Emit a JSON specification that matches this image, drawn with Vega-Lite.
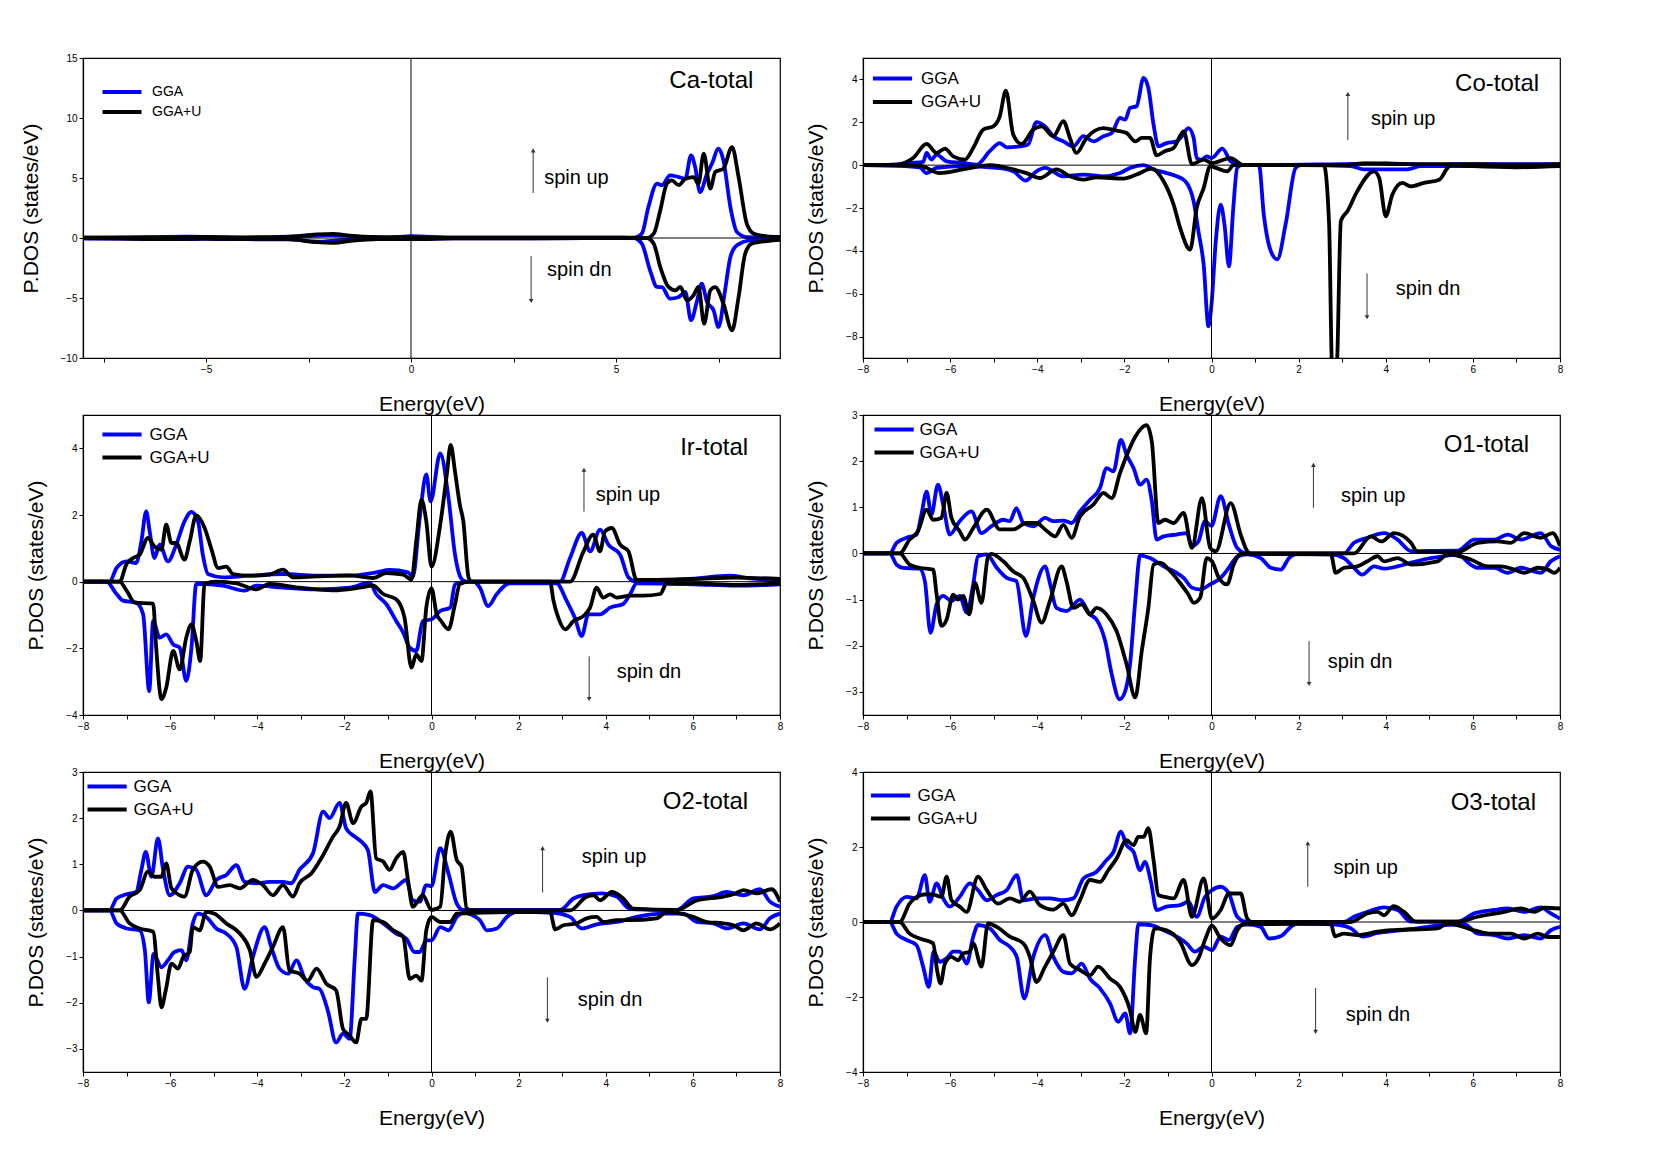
{
"$schema":"https://vega.github.io/schema/vega-lite/v6.json",
"padding":{"left":19,"top":52,"right":5,"bottom":5},
"background":"white",
"config":{"font":"Liberation Sans","view":{"stroke":"black","strokeWidth":1.2},
"axis":{"grid":false,"domainColor":"black","domainWidth":1.2,"tickColor":"black","tickSize":4,"labelFontSize":10,"labelColor":"black","titleFontSize":21,"titleFontWeight":"normal","titleColor":"black","labelOverlap":false,"labelFlush":false,"titlePadding":19},
"legend":{"symbolStrokeWidth":4,"labelFontSize":17,"padding":0,"labelLimit":300,"labelColor":"black","title":null},
"text":{"font":"Liberation Sans","color":"black"}},
"datasets":{
"Ca_GGA_up":[{"x":-8,"y":0.05},{"x":-7,"y":0.03},{"x":-6,"y":0.1},{"x":-5.3,"y":0.12},{"x":-4.5,"y":0.03},{"x":-3.5,"y":0.08},{"x":-2.5,"y":0.15},{"x":-2.0,"y":0.25},{"x":-1.6,"y":0.2},{"x":-1.0,"y":0.05},{"x":-0.3,"y":0.1},{"x":0,"y":0.15},{"x":1,"y":0.03},{"x":3,"y":0.03},{"x":5.2,"y":0.02},{"x":5.43,"y":0},{"x":5.63,"y":0.36},{"x":5.79,"y":2.58},{"x":6.0,"y":4.53},{"x":6.12,"y":4.4},{"x":6.32,"y":5.22},{"x":6.53,"y":5.08},{"x":6.69,"y":4.94},{"x":6.83,"y":6.89},{"x":6.93,"y":5.92},{"x":7.05,"y":3.83},{"x":7.22,"y":5.36},{"x":7.34,"y":6.19},{"x":7.5,"y":7.44},{"x":7.62,"y":6.47},{"x":7.79,"y":2.58},{"x":7.95,"y":0.5},{"x":8.19,"y":0.08},{"x":9,"y":0.05}],
"Ca_GGA_dn":[{"x":-8,"y":-0.05},{"x":-7,"y":-0.05},{"x":-6,"y":-0.1},{"x":-5,"y":-0.08},{"x":-4,"y":-0.1},{"x":-3,"y":-0.12},{"x":-2.2,"y":-0.3},{"x":-1.8,"y":-0.2},{"x":-1,"y":-0.05},{"x":0,"y":-0.1},{"x":1,"y":-0.03},{"x":3,"y":-0.03},{"x":5.43,"y":0},{"x":5.63,"y":-0.47},{"x":5.83,"y":-2.69},{"x":6.0,"y":-4.08},{"x":6.12,"y":-4.1},{"x":6.32,"y":-5.06},{"x":6.53,"y":-4.92},{"x":6.69,"y":-4.5},{"x":6.83,"y":-6.86},{"x":6.97,"y":-5.33},{"x":7.09,"y":-3.81},{"x":7.22,"y":-5.33},{"x":7.38,"y":-6.03},{"x":7.5,"y":-7.42},{"x":7.66,"y":-4.36},{"x":7.79,"y":-1.58},{"x":7.95,"y":-0.61},{"x":8.27,"y":-0.19},{"x":9,"y":-0.05}],
"Ca_U_up":[{"x":-8,"y":0},{"x":-7,"y":0.05},{"x":-6,"y":0.05},{"x":-5,"y":0.1},{"x":-4,"y":0.03},{"x":-3,"y":0.1},{"x":-2.3,"y":0.3},{"x":-1.9,"y":0.35},{"x":-1.5,"y":0.2},{"x":-0.8,"y":0.08},{"x":0,"y":0.05},{"x":1,"y":0.02},{"x":3,"y":0.02},{"x":5.5,"y":0.02},{"x":5.75,"y":0},{"x":5.92,"y":0.36},{"x":6.08,"y":2.31},{"x":6.24,"y":4.53},{"x":6.36,"y":4.81},{"x":6.53,"y":4.4},{"x":6.69,"y":4.94},{"x":6.89,"y":5.08},{"x":7.01,"y":4.53},{"x":7.14,"y":7.03},{"x":7.3,"y":4.11},{"x":7.42,"y":5.5},{"x":7.62,"y":5.78},{"x":7.83,"y":7.58},{"x":7.99,"y":5.08},{"x":8.19,"y":1.19},{"x":8.36,"y":0.36},{"x":8.68,"y":0.14},{"x":9,"y":0.1}],
"Ca_U_dn":[{"x":-8,"y":0},{"x":-7,"y":-0.05},{"x":-6,"y":-0.1},{"x":-5,"y":-0.05},{"x":-4,"y":-0.1},{"x":-3,"y":-0.1},{"x":-2.3,"y":-0.35},{"x":-1.9,"y":-0.4},{"x":-1.5,"y":-0.25},{"x":-0.8,"y":-0.1},{"x":0,"y":-0.1},{"x":1,"y":-0.03},{"x":3,"y":-0.02},{"x":5.75,"y":0},{"x":5.92,"y":-0.47},{"x":6.08,"y":-2.42},{"x":6.28,"y":-4.08},{"x":6.45,"y":-4.36},{"x":6.57,"y":-4.08},{"x":6.73,"y":-5.19},{"x":6.89,"y":-4.78},{"x":7.01,"y":-4.08},{"x":7.15,"y":-7.14},{"x":7.3,"y":-4.36},{"x":7.42,"y":-4.1},{"x":7.62,"y":-5.47},{"x":7.83,"y":-7.69},{"x":7.99,"y":-4.92},{"x":8.15,"y":-1.31},{"x":8.31,"y":-0.47},{"x":8.68,"y":-0.25},{"x":9,"y":-0.15}],
"Co_GGA_up":[{"x":-8,"y":0},{"x":-7.3,"y":0.02},{"x":-6.9,"y":0.1},{"x":-6.62,"y":0.15},{"x":-6.54,"y":0.57},{"x":-6.43,"y":0.26},{"x":-6.31,"y":0.49},{"x":-6.08,"y":0.18},{"x":-5.7,"y":0.1},{"x":-5.39,"y":0.02},{"x":-5.09,"y":0.65},{"x":-4.86,"y":1.03},{"x":-4.7,"y":0.83},{"x":-4.4,"y":0.88},{"x":-4.21,"y":0.96},{"x":-4.02,"y":2.01},{"x":-3.82,"y":1.81},{"x":-3.63,"y":1.35},{"x":-3.4,"y":1.11},{"x":-3.17,"y":0.88},{"x":-2.94,"y":1.35},{"x":-2.71,"y":1.11},{"x":-2.48,"y":1.35},{"x":-2.29,"y":1.5},{"x":-2.1,"y":2.2},{"x":-1.98,"y":2.12},{"x":-1.87,"y":2.67},{"x":-1.72,"y":2.75},{"x":-1.56,"y":4.07},{"x":-1.45,"y":3.6},{"x":-1.33,"y":1.89},{"x":-1.22,"y":0.88},{"x":-1.03,"y":1.03},{"x":-0.8,"y":1.11},{"x":-0.68,"y":1.35},{"x":-0.53,"y":1.73},{"x":-0.41,"y":1.27},{"x":-0.34,"y":0.33},{"x":-0.22,"y":0.26},{"x":-0.11,"y":0.41},{"x":0.0,"y":0.33},{"x":0.25,"y":0.77},{"x":0.44,"y":0.18},{"x":0.67,"y":0},{"x":1,"y":0},{"x":3,"y":0.05},{"x":4,"y":0.08},{"x":5,"y":0.02},{"x":6,"y":0.05},{"x":7,"y":0.05},{"x":8,"y":0.05}],
"Co_GGA_dn":[{"x":-8,"y":0},{"x":-7.3,"y":-0.02},{"x":-6.7,"y":-0.1},{"x":-6.54,"y":-0.37},{"x":-6.31,"y":-0.13},{"x":-5.7,"y":-0.05},{"x":-4.93,"y":-0.13},{"x":-4.55,"y":-0.29},{"x":-4.27,"y":-0.72},{"x":-4.02,"y":-0.29},{"x":-3.82,"y":-0.13},{"x":-3.4,"y":-0.52},{"x":-2.94,"y":-0.44},{"x":-2.48,"y":-0.52},{"x":-2.1,"y":-0.37},{"x":-1.87,"y":-0.13},{"x":-1.56,"y":0},{"x":-1.33,"y":-0.2},{"x":-1.03,"y":-0.37},{"x":-0.8,"y":-0.52},{"x":-0.6,"y":-0.75},{"x":-0.41,"y":-1.69},{"x":-0.3,"y":-3.09},{"x":-0.18,"y":-4.64},{"x":-0.07,"y":-7.52},{"x":0.0,"y":-6.5},{"x":0.1,"y":-3.5},{"x":0.21,"y":-1.84},{"x":0.3,"y":-2.8},{"x":0.4,"y":-4.72},{"x":0.5,"y":-2.0},{"x":0.59,"y":-0.13},{"x":0.69,"y":0},{"x":1.09,"y":0},{"x":1.2,"y":-2.3},{"x":1.36,"y":-4.0},{"x":1.51,"y":-4.4},{"x":1.7,"y":-2.78},{"x":1.93,"y":-0.13},{"x":2.05,"y":0},{"x":3.2,"y":-0.05},{"x":3.5,"y":-0.2},{"x":4.5,"y":-0.2},{"x":4.8,"y":-0.05},{"x":6,"y":-0.05},{"x":8,"y":-0.05}],
"Co_U_up":[{"x":-8,"y":0},{"x":-7.23,"y":0.02},{"x":-6.85,"y":0.33},{"x":-6.54,"y":0.99},{"x":-6.31,"y":0.57},{"x":-6.12,"y":0.77},{"x":-5.93,"y":0.41},{"x":-5.66,"y":0.26},{"x":-5.47,"y":0.8},{"x":-5.24,"y":1.66},{"x":-5.01,"y":1.81},{"x":-4.86,"y":2.28},{"x":-4.72,"y":3.48},{"x":-4.55,"y":1.42},{"x":-4.36,"y":0.99},{"x":-4.09,"y":1.66},{"x":-3.9,"y":1.81},{"x":-3.63,"y":1.35},{"x":-3.4,"y":2.05},{"x":-3.25,"y":1.27},{"x":-3.1,"y":0.57},{"x":-2.87,"y":1.27},{"x":-2.48,"y":1.73},{"x":-2.18,"y":1.61},{"x":-1.95,"y":1.5},{"x":-1.75,"y":1.11},{"x":-1.6,"y":1.27},{"x":-1.41,"y":1.27},{"x":-1.26,"y":0.46},{"x":-1.07,"y":0.65},{"x":-0.87,"y":0.8},{"x":-0.64,"y":1.58},{"x":-0.45,"y":0.05},{"x":-0.18,"y":0.26},{"x":0.01,"y":0.1},{"x":0.44,"y":0.33},{"x":0.74,"y":0},{"x":3,"y":0},{"x":3.5,"y":0.08},{"x":4.5,"y":0.05},{"x":6,"y":0.05},{"x":7,"y":0.02},{"x":8,"y":0.05}],
"Co_U_dn":[{"x":-8,"y":0},{"x":-6.7,"y":-0.02},{"x":-6.24,"y":-0.37},{"x":-5.7,"y":-0.2},{"x":-5.09,"y":0},{"x":-4.55,"y":-0.2},{"x":-4.25,"y":-0.37},{"x":-3.94,"y":-0.6},{"x":-3.56,"y":-0.2},{"x":-3.25,"y":-0.52},{"x":-2.94,"y":-0.68},{"x":-2.64,"y":-0.57},{"x":-2.02,"y":-0.63},{"x":-1.72,"y":-0.44},{"x":-1.37,"y":-0.16},{"x":-1.1,"y":-0.75},{"x":-0.87,"y":-1.84},{"x":-0.72,"y":-2.93},{"x":-0.49,"y":-3.94},{"x":-0.34,"y":-2.0},{"x":-0.18,"y":-1.07},{"x":-0.03,"y":-0.05},{"x":0.1,"y":-0.13},{"x":0.36,"y":-0.29},{"x":0.51,"y":0},{"x":2.58,"y":0},{"x":2.7,"y":-2.78},{"x":2.77,"y":-9.5},{"x":2.87,"y":-9.5},{"x":2.97,"y":-2.6},{"x":3.12,"y":-2.15},{"x":3.35,"y":-1.2},{"x":3.73,"y":-0.29},{"x":3.85,"y":-0.6},{"x":4.0,"y":-2.39},{"x":4.15,"y":-1.38},{"x":4.38,"y":-0.83},{"x":4.57,"y":-0.99},{"x":4.88,"y":-0.83},{"x":5.23,"y":-0.68},{"x":5.42,"y":-0.13},{"x":5.5,"y":0},{"x":6,"y":-0.05},{"x":7,"y":-0.1},{"x":8,"y":-0.05}],
"Ir_GGA_up":[{"x":-8,"y":0},{"x":-7.39,"y":0},{"x":-7.23,"y":0.41},{"x":-7.0,"y":0.61},{"x":-6.78,"y":0.56},{"x":-6.66,"y":1.21},{"x":-6.55,"y":2.11},{"x":-6.47,"y":1.51},{"x":-6.36,"y":0.71},{"x":-6.24,"y":1.11},{"x":-6.05,"y":0.61},{"x":-5.86,"y":1.11},{"x":-5.67,"y":1.81},{"x":-5.51,"y":2.09},{"x":-5.36,"y":1.81},{"x":-5.25,"y":0.81},{"x":-5.13,"y":0.23},{"x":-4.79,"y":0.13},{"x":-4.17,"y":0.18},{"x":-3.41,"y":0.23},{"x":-2.64,"y":0.18},{"x":-1.88,"y":0.18},{"x":-1.27,"y":0.28},{"x":-0.96,"y":0.35},{"x":-0.54,"y":0.28},{"x":-0.43,"y":0.13},{"x":-0.27,"y":1.92},{"x":-0.12,"y":3.22},{"x":-0.02,"y":2.41},{"x":0.2,"y":3.85},{"x":0.39,"y":2.51},{"x":0.54,"y":0.81},{"x":0.69,"y":0.08},{"x":0.8,"y":0},{"x":2.95,"y":0},{"x":3.18,"y":0.71},{"x":3.45,"y":1.46},{"x":3.64,"y":0.91},{"x":3.87,"y":1.56},{"x":4.06,"y":1.11},{"x":4.33,"y":0.81},{"x":4.52,"y":0.13},{"x":4.71,"y":0},{"x":6.09,"y":0.1},{"x":6.85,"y":0.18},{"x":7.3,"y":0.1},{"x":8,"y":0.05}],
"Ir_GGA_dn":[{"x":-8,"y":0},{"x":-7.46,"y":0},{"x":-7.23,"y":-0.37},{"x":-7.08,"y":-0.57},{"x":-6.78,"y":-0.63},{"x":-6.62,"y":-0.98},{"x":-6.48,"y":-3.28},{"x":-6.39,"y":-1.18},{"x":-6.24,"y":-1.68},{"x":-6.09,"y":-1.58},{"x":-5.93,"y":-1.88},{"x":-5.78,"y":-1.98},{"x":-5.63,"y":-2.98},{"x":-5.51,"y":-1.98},{"x":-5.4,"y":-0.07},{"x":-5.17,"y":-0.07},{"x":-4.79,"y":-0.12},{"x":-4.29,"y":-0.27},{"x":-4.02,"y":-0.12},{"x":-3.41,"y":-0.18},{"x":-2.64,"y":-0.23},{"x":-1.88,"y":-0.18},{"x":-1.42,"y":-0.03},{"x":-1.27,"y":-0.37},{"x":-1.04,"y":-0.67},{"x":-0.81,"y":-1.18},{"x":-0.65,"y":-1.53},{"x":-0.5,"y":-1.98},{"x":-0.35,"y":-2.08},{"x":-0.2,"y":-1.18},{"x":0.0,"y":-1.13},{"x":0.2,"y":-0.88},{"x":0.43,"y":-0.78},{"x":0.54,"y":-0.07},{"x":0.96,"y":0},{"x":1.11,"y":-0.18},{"x":1.3,"y":-0.73},{"x":1.5,"y":-0.37},{"x":1.8,"y":-0.05},{"x":2.87,"y":-0.05},{"x":3.1,"y":-0.57},{"x":3.29,"y":-1.08},{"x":3.45,"y":-1.63},{"x":3.6,"y":-0.98},{"x":3.87,"y":-0.98},{"x":4.1,"y":-0.78},{"x":4.4,"y":-0.67},{"x":4.56,"y":-0.37},{"x":4.71,"y":-0.05},{"x":6,"y":-0.08},{"x":7,"y":-0.12},{"x":8,"y":-0.08}],
"Ir_U_up":[{"x":-8,"y":0},{"x":-7.16,"y":0},{"x":-7.0,"y":0.53},{"x":-6.85,"y":0.71},{"x":-6.7,"y":0.81},{"x":-6.51,"y":1.31},{"x":-6.36,"y":1.06},{"x":-6.2,"y":0.96},{"x":-6.09,"y":1.71},{"x":-5.97,"y":1.16},{"x":-5.86,"y":1.16},{"x":-5.67,"y":0.66},{"x":-5.55,"y":1.21},{"x":-5.4,"y":1.99},{"x":-5.21,"y":1.62},{"x":-5.05,"y":0.97},{"x":-4.9,"y":0.41},{"x":-4.71,"y":0.45},{"x":-4.56,"y":0.23},{"x":-4.17,"y":0.18},{"x":-3.72,"y":0.21},{"x":-3.41,"y":0.36},{"x":-3.18,"y":0.13},{"x":-2.64,"y":0.16},{"x":-1.88,"y":0.19},{"x":-1.34,"y":0.11},{"x":-1.04,"y":0.26},{"x":-0.65,"y":0.21},{"x":-0.46,"y":0.06},{"x":-0.35,"y":1.21},{"x":-0.23,"y":2.46},{"x":-0.12,"y":1.81},{"x":0.0,"y":0.45},{"x":0.2,"y":1.71},{"x":0.35,"y":3.2},{"x":0.44,"y":4.1},{"x":0.54,"y":3.3},{"x":0.65,"y":2.31},{"x":0.73,"y":1.81},{"x":0.85,"y":0.13},{"x":0.92,"y":0},{"x":3.18,"y":0},{"x":3.49,"y":0.91},{"x":3.71,"y":1.41},{"x":3.87,"y":0.91},{"x":3.98,"y":1.51},{"x":4.14,"y":1.61},{"x":4.33,"y":1.11},{"x":4.52,"y":0.91},{"x":4.71,"y":0.05},{"x":6,"y":0.08},{"x":7,"y":0.12},{"x":8,"y":0.08}],
"Ir_U_dn":[{"x":-8,"y":0},{"x":-7.16,"y":0},{"x":-7.0,"y":-0.27},{"x":-6.81,"y":-0.63},{"x":-6.39,"y":-0.66},{"x":-6.32,"y":-1.98},{"x":-6.2,"y":-3.52},{"x":-6.09,"y":-3.18},{"x":-5.93,"y":-2.08},{"x":-5.78,"y":-2.63},{"x":-5.63,"y":-1.68},{"x":-5.51,"y":-1.28},{"x":-5.4,"y":-1.78},{"x":-5.31,"y":-2.38},{"x":-5.21,"y":-0.07},{"x":-4.94,"y":0},{"x":-4.48,"y":-0.05},{"x":-4.02,"y":-0.23},{"x":-3.72,"y":-0.07},{"x":-3.03,"y":-0.18},{"x":-2.26,"y":-0.26},{"x":-1.65,"y":-0.18},{"x":-1.34,"y":-0.12},{"x":-1.11,"y":-0.37},{"x":-0.81,"y":-0.53},{"x":-0.62,"y":-1.08},{"x":-0.46,"y":-2.58},{"x":-0.35,"y":-2.18},{"x":-0.23,"y":-2.38},{"x":-0.12,"y":-0.78},{"x":0.0,"y":-0.2},{"x":0.12,"y":-0.98},{"x":0.22,"y":-1.18},{"x":0.39,"y":-1.43},{"x":0.54,"y":-0.67},{"x":0.65,"y":-0.07},{"x":0.88,"y":0},{"x":2.72,"y":0},{"x":2.8,"y":-0.57},{"x":2.91,"y":-1.08},{"x":3.07,"y":-1.43},{"x":3.26,"y":-1.18},{"x":3.49,"y":-1.03},{"x":3.64,"y":-0.78},{"x":3.79,"y":-0.18},{"x":3.94,"y":-0.48},{"x":4.1,"y":-0.38},{"x":4.25,"y":-0.48},{"x":4.56,"y":-0.42},{"x":4.86,"y":-0.42},{"x":5.25,"y":-0.37},{"x":5.4,"y":-0.05},{"x":6,"y":-0.05},{"x":7,"y":-0.1},{"x":8,"y":-0.05}],
"O1_GGA_up":[{"x":-8,"y":0},{"x":-7.39,"y":0},{"x":-7.23,"y":0.23},{"x":-7.0,"y":0.34},{"x":-6.77,"y":0.41},{"x":-6.66,"y":0.84},{"x":-6.54,"y":1.34},{"x":-6.43,"y":0.84},{"x":-6.28,"y":1.49},{"x":-6.16,"y":1.06},{"x":-6.01,"y":0.41},{"x":-5.78,"y":0.7},{"x":-5.51,"y":0.91},{"x":-5.28,"y":0.44},{"x":-5.05,"y":0.59},{"x":-4.78,"y":0.73},{"x":-4.63,"y":0.7},{"x":-4.48,"y":0.98},{"x":-4.32,"y":0.66},{"x":-4.09,"y":0.59},{"x":-3.82,"y":0.77},{"x":-3.63,"y":0.7},{"x":-3.4,"y":0.71},{"x":-3.21,"y":0.66},{"x":-3.02,"y":0.91},{"x":-2.79,"y":1.16},{"x":-2.56,"y":1.42},{"x":-2.41,"y":1.85},{"x":-2.25,"y":1.78},{"x":-2.08,"y":2.46},{"x":-1.95,"y":2.14},{"x":-1.79,"y":1.85},{"x":-1.64,"y":1.49},{"x":-1.49,"y":1.6},{"x":-1.37,"y":1.13},{"x":-1.26,"y":0.3},{"x":-1.1,"y":0.37},{"x":-0.8,"y":0.41},{"x":-0.57,"y":0.44},{"x":-0.45,"y":0.16},{"x":-0.3,"y":0.26},{"x":-0.15,"y":0.7},{"x":0.0,"y":0.6},{"x":0.21,"y":1.24},{"x":0.4,"y":0.62},{"x":0.59,"y":0.12},{"x":0.82,"y":0},{"x":3.04,"y":0},{"x":3.27,"y":0.23},{"x":3.58,"y":0.34},{"x":3.96,"y":0.44},{"x":4.27,"y":0.3},{"x":4.58,"y":0.05},{"x":5.65,"y":0.06},{"x":6.03,"y":0.3},{"x":6.49,"y":0.3},{"x":6.8,"y":0.41},{"x":7.1,"y":0.3},{"x":7.56,"y":0.44},{"x":7.79,"y":0.16},{"x":8,"y":0.08}],
"O1_GGA_dn":[{"x":-8,"y":0},{"x":-7.39,"y":0},{"x":-7.23,"y":-0.24},{"x":-7.08,"y":-0.31},{"x":-6.7,"y":-0.33},{"x":-6.58,"y":-0.6},{"x":-6.45,"y":-1.72},{"x":-6.31,"y":-1.1},{"x":-6.16,"y":-0.92},{"x":-5.97,"y":-1.03},{"x":-5.78,"y":-0.92},{"x":-5.62,"y":-1.28},{"x":-5.47,"y":-0.67},{"x":-5.36,"y":-0.06},{"x":-5.16,"y":-0.02},{"x":-4.93,"y":-0.31},{"x":-4.7,"y":-0.53},{"x":-4.48,"y":-0.6},{"x":-4.26,"y":-1.79},{"x":-4.09,"y":-0.96},{"x":-3.82,"y":-0.28},{"x":-3.71,"y":-0.64},{"x":-3.56,"y":-1.18},{"x":-3.33,"y":-1.25},{"x":-3.02,"y":-1.0},{"x":-2.79,"y":-1.32},{"x":-2.64,"y":-1.43},{"x":-2.44,"y":-1.9},{"x":-2.29,"y":-2.62},{"x":-2.11,"y":-3.16},{"x":-1.98,"y":-2.98},{"x":-1.87,"y":-2.4},{"x":-1.75,"y":-1.03},{"x":-1.64,"y":-0.04},{"x":-1.41,"y":-0.1},{"x":-1.1,"y":-0.28},{"x":-0.8,"y":-0.42},{"x":-0.64,"y":-0.53},{"x":-0.45,"y":-0.74},{"x":-0.26,"y":-0.78},{"x":-0.03,"y":-0.67},{"x":0.21,"y":-0.53},{"x":0.4,"y":-0.31},{"x":0.59,"y":-0.07},{"x":0.82,"y":-0.02},{"x":1.13,"y":-0.1},{"x":1.36,"y":-0.31},{"x":1.59,"y":-0.35},{"x":1.78,"y":-0.1},{"x":1.97,"y":-0.01},{"x":2.74,"y":-0.02},{"x":3.04,"y":-0.1},{"x":3.27,"y":-0.31},{"x":3.46,"y":-0.46},{"x":3.73,"y":-0.28},{"x":3.96,"y":-0.33},{"x":4.27,"y":-0.28},{"x":4.58,"y":-0.2},{"x":5.03,"y":-0.1},{"x":5.34,"y":-0.06},{"x":5.65,"y":-0.02},{"x":5.95,"y":-0.24},{"x":6.11,"y":-0.31},{"x":6.49,"y":-0.31},{"x":6.8,"y":-0.42},{"x":7.1,"y":-0.31},{"x":7.56,"y":-0.42},{"x":7.79,"y":-0.17},{"x":8,"y":-0.06}],
"O1_U_up":[{"x":-8,"y":0},{"x":-7.16,"y":0},{"x":-6.93,"y":0.3},{"x":-6.74,"y":0.48},{"x":-6.54,"y":0.95},{"x":-6.39,"y":0.73},{"x":-6.2,"y":0.77},{"x":-6.08,"y":1.31},{"x":-5.97,"y":0.77},{"x":-5.78,"y":0.48},{"x":-5.66,"y":0.3},{"x":-5.47,"y":0.55},{"x":-5.16,"y":0.95},{"x":-4.86,"y":0.52},{"x":-4.55,"y":0.52},{"x":-4.25,"y":0.66},{"x":-4.02,"y":0.66},{"x":-3.82,"y":0.52},{"x":-3.59,"y":0.37},{"x":-3.4,"y":0.62},{"x":-3.21,"y":0.34},{"x":-3.02,"y":0.8},{"x":-2.71,"y":1.06},{"x":-2.48,"y":1.31},{"x":-2.29,"y":1.2},{"x":-2.1,"y":1.74},{"x":-1.91,"y":2.21},{"x":-1.75,"y":2.53},{"x":-1.49,"y":2.78},{"x":-1.37,"y":2.42},{"x":-1.22,"y":0.66},{"x":-1.07,"y":0.73},{"x":-0.87,"y":0.66},{"x":-0.64,"y":0.88},{"x":-0.45,"y":0.12},{"x":-0.22,"y":1.2},{"x":-0.03,"y":0.12},{"x":0.1,"y":0.05},{"x":0.44,"y":1.09},{"x":0.67,"y":0.41},{"x":0.82,"y":0.05},{"x":0.9,"y":0},{"x":3.27,"y":0},{"x":3.66,"y":0.37},{"x":3.9,"y":0.26},{"x":4.19,"y":0.44},{"x":4.58,"y":0.23},{"x":4.73,"y":0.03},{"x":5.65,"y":0.03},{"x":6.11,"y":0.23},{"x":6.57,"y":0.26},{"x":6.87,"y":0.23},{"x":7.18,"y":0.44},{"x":7.56,"y":0.34},{"x":7.83,"y":0.44},{"x":8,"y":0.16}],
"O1_U_dn":[{"x":-8,"y":0},{"x":-7.16,"y":0},{"x":-6.93,"y":-0.24},{"x":-6.7,"y":-0.31},{"x":-6.39,"y":-0.35},{"x":-6.31,"y":-0.89},{"x":-6.2,"y":-1.57},{"x":-6.08,"y":-1.43},{"x":-5.93,"y":-0.89},{"x":-5.82,"y":-1.0},{"x":-5.7,"y":-0.92},{"x":-5.56,"y":-1.32},{"x":-5.43,"y":-0.64},{"x":-5.28,"y":-1.07},{"x":-5.13,"y":-0.07},{"x":-5.05,"y":-0.01},{"x":-4.78,"y":-0.17},{"x":-4.55,"y":-0.39},{"x":-4.32,"y":-0.53},{"x":-4.09,"y":-1.03},{"x":-3.9,"y":-1.5},{"x":-3.71,"y":-1.03},{"x":-3.44,"y":-0.28},{"x":-3.33,"y":-0.6},{"x":-3.17,"y":-1.18},{"x":-2.98,"y":-1.1},{"x":-2.79,"y":-1.32},{"x":-2.64,"y":-1.18},{"x":-2.41,"y":-1.32},{"x":-2.18,"y":-1.68},{"x":-1.95,"y":-2.4},{"x":-1.75,"y":-3.12},{"x":-1.6,"y":-2.11},{"x":-1.45,"y":-1.18},{"x":-1.33,"y":-0.24},{"x":-1.18,"y":-0.2},{"x":-0.95,"y":-0.38},{"x":-0.72,"y":-0.64},{"x":-0.53,"y":-0.89},{"x":-0.41,"y":-1.07},{"x":-0.26,"y":-0.96},{"x":-0.11,"y":-0.1},{"x":0.01,"y":-0.17},{"x":0.17,"y":-0.53},{"x":0.36,"y":-0.67},{"x":0.51,"y":-0.24},{"x":0.67,"y":-0.01},{"x":2.74,"y":-0.02},{"x":2.85,"y":-0.42},{"x":3.04,"y":-0.31},{"x":3.35,"y":-0.28},{"x":3.58,"y":-0.17},{"x":3.81,"y":-0.06},{"x":3.96,"y":-0.17},{"x":4.27,"y":-0.1},{"x":4.58,"y":-0.24},{"x":5.19,"y":-0.17},{"x":5.42,"y":-0.02},{"x":5.95,"y":-0.13},{"x":6.34,"y":-0.28},{"x":6.64,"y":-0.28},{"x":6.95,"y":-0.35},{"x":7.18,"y":-0.42},{"x":7.49,"y":-0.31},{"x":7.72,"y":-0.35},{"x":7.87,"y":-0.42},{"x":8,"y":-0.31}],
"O2_GGA_up":[{"x":-8,"y":0},{"x":-7.39,"y":0},{"x":-7.23,"y":0.26},{"x":-7.0,"y":0.35},{"x":-6.78,"y":0.4},{"x":-6.66,"y":0.88},{"x":-6.56,"y":1.27},{"x":-6.43,"y":0.73},{"x":-6.28,"y":1.56},{"x":-6.16,"y":0.88},{"x":-6.01,"y":0.33},{"x":-5.78,"y":0.59},{"x":-5.59,"y":0.95},{"x":-5.4,"y":0.88},{"x":-5.17,"y":0.33},{"x":-4.94,"y":0.66},{"x":-4.71,"y":0.77},{"x":-4.48,"y":0.98},{"x":-4.29,"y":0.62},{"x":-4.02,"y":0.59},{"x":-3.72,"y":0.62},{"x":-3.41,"y":0.62},{"x":-3.22,"y":0.59},{"x":-3.03,"y":0.88},{"x":-2.72,"y":1.24},{"x":-2.49,"y":2.14},{"x":-2.34,"y":2.0},{"x":-2.11,"y":2.33},{"x":-1.96,"y":1.78},{"x":-1.76,"y":1.6},{"x":-1.61,"y":1.49},{"x":-1.46,"y":1.31},{"x":-1.3,"y":0.4},{"x":-1.11,"y":0.55},{"x":-0.88,"y":0.48},{"x":-0.58,"y":0.66},{"x":-0.43,"y":0.22},{"x":-0.27,"y":0.19},{"x":-0.12,"y":0.55},{"x":0.0,"y":0.53},{"x":0.2,"y":1.35},{"x":0.39,"y":0.8},{"x":0.58,"y":0.15},{"x":0.73,"y":0.01},{"x":2.95,"y":0.01},{"x":3.26,"y":0.26},{"x":3.49,"y":0.33},{"x":3.91,"y":0.37},{"x":4.25,"y":0.3},{"x":4.56,"y":0.03},{"x":5.63,"y":0.01},{"x":6.01,"y":0.26},{"x":6.47,"y":0.31},{"x":6.78,"y":0.4},{"x":7.16,"y":0.33},{"x":7.54,"y":0.46},{"x":7.77,"y":0.19},{"x":8,"y":0.08}],
"O2_GGA_dn":[{"x":-8,"y":0},{"x":-7.39,"y":0},{"x":-7.23,"y":-0.28},{"x":-7.0,"y":-0.39},{"x":-6.7,"y":-0.43},{"x":-6.58,"y":-0.86},{"x":-6.49,"y":-1.99},{"x":-6.38,"y":-0.94},{"x":-6.2,"y":-1.23},{"x":-6.05,"y":-1.08},{"x":-5.9,"y":-0.9},{"x":-5.74,"y":-0.86},{"x":-5.63,"y":-1.08},{"x":-5.48,"y":-0.28},{"x":-5.36,"y":-0.07},{"x":-5.17,"y":-0.14},{"x":-4.94,"y":-0.39},{"x":-4.71,"y":-0.5},{"x":-4.48,"y":-0.79},{"x":-4.29,"y":-1.7},{"x":-4.1,"y":-1.01},{"x":-3.83,"y":-0.36},{"x":-3.68,"y":-0.79},{"x":-3.49,"y":-1.26},{"x":-3.29,"y":-1.37},{"x":-3.1,"y":-1.08},{"x":-2.91,"y":-1.48},{"x":-2.72,"y":-1.66},{"x":-2.57,"y":-1.7},{"x":-2.38,"y":-2.17},{"x":-2.19,"y":-2.86},{"x":-2.03,"y":-2.67},{"x":-1.88,"y":-2.78},{"x":-1.76,"y":-1.01},{"x":-1.69,"y":-0.07},{"x":-1.42,"y":-0.1},{"x":-1.11,"y":-0.28},{"x":-0.81,"y":-0.5},{"x":-0.58,"y":-0.61},{"x":-0.39,"y":-0.9},{"x":-0.27,"y":-0.9},{"x":-0.12,"y":-0.65},{"x":0.0,"y":-0.65},{"x":0.2,"y":-0.36},{"x":0.39,"y":-0.43},{"x":0.58,"y":-0.14},{"x":0.73,"y":-0.05},{"x":1.11,"y":-0.21},{"x":1.27,"y":-0.43},{"x":1.5,"y":-0.39},{"x":1.73,"y":-0.14},{"x":1.96,"y":-0.03},{"x":2.8,"y":-0.05},{"x":3.18,"y":-0.14},{"x":3.45,"y":-0.39},{"x":3.79,"y":-0.3},{"x":4.25,"y":-0.25},{"x":4.71,"y":-0.14},{"x":5.32,"y":-0.07},{"x":5.78,"y":-0.07},{"x":6.09,"y":-0.25},{"x":6.47,"y":-0.28},{"x":6.78,"y":-0.39},{"x":7.16,"y":-0.28},{"x":7.54,"y":-0.41},{"x":7.77,"y":-0.17},{"x":8,"y":-0.07}],
"O2_U_up":[{"x":-8,"y":0},{"x":-7.16,"y":0},{"x":-6.93,"y":0.3},{"x":-6.7,"y":0.44},{"x":-6.51,"y":0.84},{"x":-6.36,"y":0.73},{"x":-6.2,"y":0.73},{"x":-6.09,"y":1.02},{"x":-5.97,"y":0.48},{"x":-5.78,"y":0.33},{"x":-5.67,"y":0.3},{"x":-5.48,"y":0.88},{"x":-5.25,"y":1.06},{"x":-5.09,"y":0.95},{"x":-4.9,"y":0.51},{"x":-4.63,"y":0.55},{"x":-4.4,"y":0.48},{"x":-4.1,"y":0.66},{"x":-3.87,"y":0.55},{"x":-3.64,"y":0.33},{"x":-3.41,"y":0.55},{"x":-3.18,"y":0.3},{"x":-3.03,"y":0.59},{"x":-2.76,"y":0.8},{"x":-2.53,"y":1.13},{"x":-2.26,"y":1.6},{"x":-2.11,"y":1.82},{"x":-1.96,"y":2.33},{"x":-1.8,"y":1.89},{"x":-1.61,"y":2.25},{"x":-1.5,"y":2.33},{"x":-1.4,"y":2.58},{"x":-1.27,"y":1.13},{"x":-1.11,"y":1.06},{"x":-0.96,"y":0.88},{"x":-0.81,"y":1.13},{"x":-0.65,"y":1.27},{"x":-0.54,"y":0.66},{"x":-0.43,"y":0.08},{"x":-0.2,"y":0.33},{"x":0.0,"y":0.01},{"x":0.2,"y":0.08},{"x":0.31,"y":1.17},{"x":0.44,"y":1.71},{"x":0.58,"y":1.09},{"x":0.69,"y":0.95},{"x":0.81,"y":0.04},{"x":0.95,"y":0},{"x":3.18,"y":0},{"x":3.56,"y":0.3},{"x":3.72,"y":0.33},{"x":3.87,"y":0.22},{"x":4.14,"y":0.4},{"x":4.4,"y":0.26},{"x":4.63,"y":0.04},{"x":5.63,"y":0.01},{"x":6.09,"y":0.22},{"x":6.7,"y":0.3},{"x":6.93,"y":0.35},{"x":7.16,"y":0.44},{"x":7.46,"y":0.37},{"x":7.81,"y":0.46},{"x":8,"y":0.19}],
"O2_U_dn":[{"x":-8,"y":0},{"x":-7.16,"y":0},{"x":-6.93,"y":-0.28},{"x":-6.7,"y":-0.39},{"x":-6.39,"y":-0.46},{"x":-6.28,"y":-1.44},{"x":-6.2,"y":-2.1},{"x":-6.1,"y":-1.73},{"x":-5.97,"y":-1.15},{"x":-5.82,"y":-1.26},{"x":-5.7,"y":-1.01},{"x":-5.55,"y":-0.9},{"x":-5.48,"y":-0.36},{"x":-5.32,"y":-0.43},{"x":-5.17,"y":-0.03},{"x":-4.98,"y":-0.07},{"x":-4.71,"y":-0.28},{"x":-4.4,"y":-0.5},{"x":-4.17,"y":-0.86},{"x":-4.02,"y":-1.44},{"x":-3.83,"y":-1.15},{"x":-3.64,"y":-0.79},{"x":-3.41,"y":-0.36},{"x":-3.26,"y":-1.3},{"x":-3.03,"y":-1.37},{"x":-2.84,"y":-1.52},{"x":-2.64,"y":-1.26},{"x":-2.41,"y":-1.59},{"x":-2.19,"y":-1.73},{"x":-2.03,"y":-2.57},{"x":-1.88,"y":-2.71},{"x":-1.73,"y":-2.86},{"x":-1.61,"y":-2.35},{"x":-1.5,"y":-2.35},{"x":-1.34,"y":-0.21},{"x":-1.11,"y":-0.25},{"x":-0.88,"y":-0.43},{"x":-0.65,"y":-0.57},{"x":-0.5,"y":-1.48},{"x":-0.35,"y":-1.41},{"x":-0.23,"y":-1.52},{"x":-0.12,"y":-0.43},{"x":0.0,"y":-0.14},{"x":0.2,"y":-0.25},{"x":0.43,"y":-0.25},{"x":0.58,"y":-0.07},{"x":2.72,"y":-0.03},{"x":2.84,"y":-0.41},{"x":3.03,"y":-0.32},{"x":3.33,"y":-0.28},{"x":3.56,"y":-0.17},{"x":3.79,"y":-0.14},{"x":3.95,"y":-0.25},{"x":4.25,"y":-0.21},{"x":4.56,"y":-0.21},{"x":5.17,"y":-0.17},{"x":5.4,"y":-0.03},{"x":6.01,"y":-0.14},{"x":6.32,"y":-0.25},{"x":6.7,"y":-0.28},{"x":6.93,"y":-0.32},{"x":7.16,"y":-0.43},{"x":7.46,"y":-0.28},{"x":7.77,"y":-0.41},{"x":8,"y":-0.28}],
"O3_GGA_up":[{"x":-8,"y":0},{"x":-7.39,"y":0},{"x":-7.23,"y":0.41},{"x":-7.0,"y":0.67},{"x":-6.77,"y":0.63},{"x":-6.58,"y":1.25},{"x":-6.47,"y":0.54},{"x":-6.31,"y":1.03},{"x":-6.16,"y":0.63},{"x":-6.01,"y":0.41},{"x":-5.78,"y":0.67},{"x":-5.55,"y":1.03},{"x":-5.36,"y":0.85},{"x":-5.16,"y":0.58},{"x":-4.93,"y":0.72},{"x":-4.7,"y":0.85},{"x":-4.47,"y":1.25},{"x":-4.32,"y":0.58},{"x":-4.02,"y":0.63},{"x":-3.71,"y":0.63},{"x":-3.4,"y":0.58},{"x":-3.17,"y":0.63},{"x":-2.94,"y":1.16},{"x":-2.64,"y":1.34},{"x":-2.41,"y":1.65},{"x":-2.25,"y":1.87},{"x":-2.08,"y":2.41},{"x":-1.95,"y":2.05},{"x":-1.79,"y":1.87},{"x":-1.64,"y":1.38},{"x":-1.53,"y":1.6},{"x":-1.39,"y":1.07},{"x":-1.26,"y":0.32},{"x":-1.03,"y":0.41},{"x":-0.72,"y":0.45},{"x":-0.53,"y":0.54},{"x":-0.34,"y":0.14},{"x":-0.15,"y":0.67},{"x":0.01,"y":0.85},{"x":0.21,"y":0.94},{"x":0.4,"y":0.76},{"x":0.59,"y":0.14},{"x":0.82,"y":0},{"x":3.04,"y":0},{"x":3.27,"y":0.14},{"x":3.58,"y":0.27},{"x":3.96,"y":0.39},{"x":4.27,"y":0.32},{"x":4.58,"y":0.01},{"x":5.65,"y":0.01},{"x":6.03,"y":0.23},{"x":6.49,"y":0.32},{"x":6.8,"y":0.36},{"x":7.18,"y":0.27},{"x":7.56,"y":0.39},{"x":7.79,"y":0.23},{"x":8,"y":0.09}],
"O3_GGA_dn":[{"x":-8,"y":0},{"x":-7.39,"y":0},{"x":-7.23,"y":-0.31},{"x":-7.0,"y":-0.48},{"x":-6.77,"y":-0.62},{"x":-6.62,"y":-1.19},{"x":-6.49,"y":-1.73},{"x":-6.38,"y":-0.79},{"x":-6.24,"y":-1.06},{"x":-6.08,"y":-0.97},{"x":-5.93,"y":-0.79},{"x":-5.78,"y":-0.79},{"x":-5.62,"y":-1.11},{"x":-5.47,"y":-0.39},{"x":-5.36,"y":-0.08},{"x":-5.09,"y":-0.17},{"x":-4.86,"y":-0.48},{"x":-4.63,"y":-0.66},{"x":-4.47,"y":-0.93},{"x":-4.3,"y":-2.04},{"x":-4.09,"y":-0.93},{"x":-3.82,"y":-0.35},{"x":-3.63,"y":-0.93},{"x":-3.4,"y":-1.33},{"x":-3.21,"y":-1.37},{"x":-2.98,"y":-1.11},{"x":-2.79,"y":-1.51},{"x":-2.56,"y":-1.77},{"x":-2.33,"y":-2.17},{"x":-2.14,"y":-2.66},{"x":-1.98,"y":-2.44},{"x":-1.87,"y":-2.97},{"x":-1.75,"y":-0.93},{"x":-1.68,"y":-0.06},{"x":-1.41,"y":-0.08},{"x":-1.1,"y":-0.22},{"x":-0.8,"y":-0.39},{"x":-0.57,"y":-0.57},{"x":-0.38,"y":-0.79},{"x":-0.18,"y":-0.66},{"x":0.01,"y":-0.75},{"x":0.21,"y":-0.39},{"x":0.4,"y":-0.48},{"x":0.59,"y":-0.13},{"x":0.82,"y":-0.06},{"x":1.13,"y":-0.13},{"x":1.32,"y":-0.44},{"x":1.59,"y":-0.38},{"x":1.82,"y":-0.13},{"x":1.97,"y":-0.04},{"x":2.8,"y":-0.06},{"x":3.2,"y":-0.17},{"x":3.46,"y":-0.39},{"x":3.81,"y":-0.29},{"x":4.27,"y":-0.23},{"x":4.73,"y":-0.17},{"x":5.34,"y":-0.08},{"x":5.8,"y":-0.06},{"x":6.11,"y":-0.31},{"x":6.49,"y":-0.35},{"x":6.8,"y":-0.44},{"x":7.18,"y":-0.35},{"x":7.56,"y":-0.44},{"x":7.79,"y":-0.22},{"x":8,"y":-0.13}],
"O3_U_up":[{"x":-8,"y":0},{"x":-7.16,"y":0},{"x":-6.93,"y":0.49},{"x":-6.77,"y":0.67},{"x":-6.54,"y":0.74},{"x":-6.35,"y":0.72},{"x":-6.2,"y":0.67},{"x":-6.08,"y":1.21},{"x":-5.97,"y":0.58},{"x":-5.78,"y":0.41},{"x":-5.62,"y":0.27},{"x":-5.36,"y":1.21},{"x":-5.16,"y":0.85},{"x":-4.9,"y":0.49},{"x":-4.63,"y":0.63},{"x":-4.4,"y":0.54},{"x":-4.17,"y":0.81},{"x":-3.94,"y":0.45},{"x":-3.63,"y":0.33},{"x":-3.4,"y":0.49},{"x":-3.21,"y":0.18},{"x":-3.02,"y":0.58},{"x":-2.79,"y":1.12},{"x":-2.56,"y":1.07},{"x":-2.37,"y":1.38},{"x":-2.18,"y":1.69},{"x":-1.95,"y":2.18},{"x":-1.79,"y":2.05},{"x":-1.68,"y":2.27},{"x":-1.56,"y":2.27},{"x":-1.45,"y":2.5},{"x":-1.33,"y":1.65},{"x":-1.22,"y":0.72},{"x":-1.07,"y":0.67},{"x":-0.87,"y":0.63},{"x":-0.64,"y":1.12},{"x":-0.45,"y":0.14},{"x":-0.18,"y":1.16},{"x":0.01,"y":0.09},{"x":0.21,"y":0.32},{"x":0.4,"y":0.76},{"x":0.67,"y":0.76},{"x":0.82,"y":0.09},{"x":0.93,"y":0},{"x":3.2,"y":0},{"x":3.58,"y":0.23},{"x":3.81,"y":0.27},{"x":3.96,"y":0.18},{"x":4.18,"y":0.42},{"x":4.42,"y":0.27},{"x":4.69,"y":0.01},{"x":5.65,"y":0.01},{"x":6.11,"y":0.14},{"x":6.72,"y":0.27},{"x":7.1,"y":0.36},{"x":7.41,"y":0.27},{"x":7.64,"y":0.38},{"x":8,"y":0.36}],
"O3_U_dn":[{"x":-8,"y":0},{"x":-7.16,"y":0},{"x":-6.93,"y":-0.31},{"x":-6.7,"y":-0.44},{"x":-6.39,"y":-0.57},{"x":-6.3,"y":-1.28},{"x":-6.22,"y":-1.64},{"x":-6.12,"y":-1.11},{"x":-5.97,"y":-0.93},{"x":-5.82,"y":-1.02},{"x":-5.7,"y":-0.84},{"x":-5.55,"y":-0.79},{"x":-5.47,"y":-0.57},{"x":-5.28,"y":-1.19},{"x":-5.13,"y":-0.04},{"x":-4.93,"y":-0.13},{"x":-4.63,"y":-0.39},{"x":-4.32,"y":-0.57},{"x":-4.17,"y":-0.93},{"x":-4.02,"y":-1.6},{"x":-3.82,"y":-1.19},{"x":-3.63,"y":-0.79},{"x":-3.4,"y":-0.35},{"x":-3.25,"y":-1.11},{"x":-3.02,"y":-1.28},{"x":-2.79,"y":-1.42},{"x":-2.6,"y":-1.19},{"x":-2.33,"y":-1.51},{"x":-2.1,"y":-1.73},{"x":-1.87,"y":-2.35},{"x":-1.75,"y":-2.93},{"x":-1.64,"y":-2.48},{"x":-1.5,"y":-2.97},{"x":-1.41,"y":-0.93},{"x":-1.3,"y":-0.17},{"x":-1.03,"y":-0.22},{"x":-0.72,"y":-0.53},{"x":-0.45,"y":-1.15},{"x":-0.3,"y":-0.97},{"x":-0.15,"y":-0.48},{"x":0.01,"y":-0.1},{"x":0.21,"y":-0.44},{"x":0.44,"y":-0.62},{"x":0.59,"y":-0.22},{"x":0.74,"y":-0.06},{"x":2.74,"y":-0.04},{"x":2.83,"y":-0.38},{"x":3.04,"y":-0.31},{"x":3.35,"y":-0.35},{"x":3.81,"y":-0.26},{"x":4.11,"y":-0.22},{"x":4.58,"y":-0.2},{"x":5.19,"y":-0.17},{"x":5.42,"y":-0.04},{"x":6.03,"y":-0.22},{"x":6.41,"y":-0.31},{"x":6.87,"y":-0.31},{"x":7.18,"y":-0.44},{"x":7.49,"y":-0.31},{"x":7.72,"y":-0.4},{"x":8,"y":-0.4}]
},
"columns":2,
"spacing":{"row":57,"column":83},
"bounds":"flush",
"resolve":{"scale":{"x":"independent","y":"independent","color":"independent"},"axis":{"x":"independent","y":"independent"},"legend":{"color":"independent"}},
"concat":[
{"width":697,"height":300,"layer":[
{"data":{"name":"Ca_GGA_up"},"mark":{"type":"line","strokeWidth":3.8,"clip":true,"interpolate":"monotone"},"encoding":{"x":{"field":"x","type":"quantitative","scale":{"domain":[-8,9],"nice":false,"zero":false},"axis":{"title":"Energy(eV)","labelOverlap":false,"values":[-7.5,-5,-2.5,0,2.5,5,7.5],"labelExpr":"datum.value % 5 === 0 ? datum.label : ''"}},"y":{"field":"y","type":"quantitative","scale":{"domain":[-10,15],"nice":false,"zero":false},"axis":{"title":"P.DOS (states/eV)","labelOverlap":false,"values":[-10,-7.5,-5,-2.5,0,2.5,5,7.5,10,12.5,15],"labelExpr":"datum.value % 5 === 0 ? datum.label : ''"}},"color":{"datum":"GGA","scale":{"domain":["GGA","GGA+U"],"range":["#0000ff","#000000"]},"legend":{"title":null,"orient":"none","legendX":27,"legendY":22,"symbolType":"M-1.95,0H1.95","symbolSize":400,"labelFontSize":14,"labelOffset":18,"rowPadding":0}}}},
{"data":{"name":"Ca_GGA_dn"},"mark":{"type":"line","strokeWidth":3.8,"clip":true,"interpolate":"monotone"},"encoding":{"x":{"field":"x","type":"quantitative"},"y":{"field":"y","type":"quantitative"},"color":{"datum":"GGA"}}},
{"data":{"name":"Ca_U_up"},"mark":{"type":"line","strokeWidth":3.8,"clip":true,"interpolate":"monotone"},"encoding":{"x":{"field":"x","type":"quantitative"},"y":{"field":"y","type":"quantitative"},"color":{"datum":"GGA+U"}}},
{"data":{"name":"Ca_U_dn"},"mark":{"type":"line","strokeWidth":3.8,"clip":true,"interpolate":"monotone"},"encoding":{"x":{"field":"x","type":"quantitative"},"y":{"field":"y","type":"quantitative"},"color":{"datum":"GGA+U"}}},
{"data":{"values":[{}]},"mark":{"type":"rule","color":"black","strokeWidth":1},"encoding":{"y":{"datum":0}}},
{"data":{"values":[{}]},"mark":{"type":"rule","color":"black","strokeWidth":1},"encoding":{"x":{"datum":0}}},
{"data":{"values":[{}]},"mark":{"type":"text","align":"right","baseline":"middle","fontSize":24},"encoding":{"x":{"datum":8.35},"y":{"datum":13.1},"text":{"value":"Ca-total"}}},
{"data":{"values":[{}]},"mark":{"type":"text","align":"left","baseline":"middle","fontSize":20},"encoding":{"x":{"datum":3.25},"y":{"datum":5.0},"text":{"value":"spin up"}}},
{"data":{"values":[{}]},"mark":{"type":"text","align":"left","baseline":"middle","fontSize":20},"encoding":{"x":{"datum":3.32},"y":{"datum":-2.67},"text":{"value":"spin dn"}}},
{"data":{"values":[{}]},"mark":{"type":"rule","color":"#333","strokeWidth":1},"encoding":{"x":{"datum":2.98},"y":{"datum":3.75},"y2":{"datum":7.3}}},
{"data":{"values":[{}]},"mark":{"type":"rule","color":"#333","strokeWidth":1},"encoding":{"x":{"datum":2.93},"y":{"datum":-1.5},"y2":{"datum":-5.25}}},
{"data":{"values":[{}]},"mark":{"type":"point","shape":"triangle-up","size":22,"filled":true,"color":"#333","opacity":1},"encoding":{"x":{"datum":2.98},"y":{"datum":7.3}}},
{"data":{"values":[{}]},"mark":{"type":"point","shape":"triangle-down","size":22,"filled":true,"color":"#333","opacity":1},"encoding":{"x":{"datum":2.93},"y":{"datum":-5.25}}}
]},
{"width":697,"height":300,"layer":[
{"data":{"name":"Co_GGA_up"},"mark":{"type":"line","strokeWidth":3.8,"clip":true,"interpolate":"monotone"},"encoding":{"x":{"field":"x","type":"quantitative","scale":{"domain":[-8,8],"nice":false,"zero":false},"axis":{"title":"Energy(eV)","labelOverlap":false,"values":[-8,-7,-6,-5,-4,-3,-2,-1,0,1,2,3,4,5,6,7,8],"labelExpr":"datum.value % 2 === 0 ? datum.label : ''"}},"y":{"field":"y","type":"quantitative","scale":{"domain":[-9,5],"nice":false,"zero":false},"axis":{"title":"P.DOS (states/eV)","labelOverlap":false,"values":[-8,-7,-6,-5,-4,-3,-2,-1,0,1,2,3,4],"labelExpr":"datum.value % 2 === 0 ? datum.label : ''"}},"color":{"datum":"GGA","scale":{"domain":["GGA","GGA+U"],"range":["#0000ff","#000000"]},"legend":{"title":null,"orient":"none","legendX":15,"legendY":6,"symbolType":"M-1.6,0H1.6","symbolSize":600,"labelOffset":14,"rowPadding":0.5}}}},
{"data":{"name":"Co_GGA_dn"},"mark":{"type":"line","strokeWidth":3.8,"clip":true,"interpolate":"monotone"},"encoding":{"x":{"field":"x","type":"quantitative"},"y":{"field":"y","type":"quantitative"},"color":{"datum":"GGA"}}},
{"data":{"name":"Co_U_up"},"mark":{"type":"line","strokeWidth":3.8,"clip":true,"interpolate":"monotone"},"encoding":{"x":{"field":"x","type":"quantitative"},"y":{"field":"y","type":"quantitative"},"color":{"datum":"GGA+U"}}},
{"data":{"name":"Co_U_dn"},"mark":{"type":"line","strokeWidth":3.8,"clip":true,"interpolate":"monotone"},"encoding":{"x":{"field":"x","type":"quantitative"},"y":{"field":"y","type":"quantitative"},"color":{"datum":"GGA+U"}}},
{"data":{"values":[{}]},"mark":{"type":"rule","color":"black","strokeWidth":1},"encoding":{"y":{"datum":0}}},
{"data":{"values":[{}]},"mark":{"type":"rule","color":"black","strokeWidth":1},"encoding":{"x":{"datum":0}}},
{"data":{"values":[{}]},"mark":{"type":"text","align":"right","baseline":"middle","fontSize":24},"encoding":{"x":{"datum":7.52},"y":{"datum":3.78},"text":{"value":"Co-total"}}},
{"data":{"values":[{}]},"mark":{"type":"text","align":"left","baseline":"middle","fontSize":20},"encoding":{"x":{"datum":3.66},"y":{"datum":2.15},"text":{"value":"spin up"}}},
{"data":{"values":[{}]},"mark":{"type":"text","align":"left","baseline":"middle","fontSize":20},"encoding":{"x":{"datum":4.23},"y":{"datum":-5.8},"text":{"value":"spin dn"}}},
{"data":{"values":[{}]},"mark":{"type":"rule","color":"#333","strokeWidth":1},"encoding":{"x":{"datum":3.13},"y":{"datum":1.17},"y2":{"datum":3.32}}},
{"data":{"values":[{}]},"mark":{"type":"rule","color":"#333","strokeWidth":1},"encoding":{"x":{"datum":3.57},"y":{"datum":-5.05},"y2":{"datum":-7.1}}},
{"data":{"values":[{}]},"mark":{"type":"point","shape":"triangle-up","size":22,"filled":true,"color":"#333","opacity":1},"encoding":{"x":{"datum":3.13},"y":{"datum":3.32}}},
{"data":{"values":[{}]},"mark":{"type":"point","shape":"triangle-down","size":22,"filled":true,"color":"#333","opacity":1},"encoding":{"x":{"datum":3.57},"y":{"datum":-7.1}}}
]},
{"width":697,"height":300,"layer":[
{"data":{"name":"Ir_GGA_up"},"mark":{"type":"line","strokeWidth":3.8,"clip":true,"interpolate":"monotone"},"encoding":{"x":{"field":"x","type":"quantitative","scale":{"domain":[-8,8],"nice":false,"zero":false},"axis":{"title":"Energy(eV)","labelOverlap":false,"values":[-8,-7,-6,-5,-4,-3,-2,-1,0,1,2,3,4,5,6,7,8],"labelExpr":"datum.value % 2 === 0 ? datum.label : ''"}},"y":{"field":"y","type":"quantitative","scale":{"domain":[-4,5],"nice":false,"zero":false},"axis":{"title":"P.DOS (states/eV)","labelOverlap":false,"values":[-4,-3,-2,-1,0,1,2,3,4,5],"labelExpr":"datum.value % 2 === 0 ? datum.label : ''"}},"color":{"datum":"GGA","scale":{"domain":["GGA","GGA+U"],"range":["#0000ff","#000000"]},"legend":{"title":null,"orient":"none","legendX":24.5,"legendY":5,"symbolType":"M-1.6,0H1.6","symbolSize":600,"labelOffset":13,"rowPadding":0}}}},
{"data":{"name":"Ir_GGA_dn"},"mark":{"type":"line","strokeWidth":3.8,"clip":true,"interpolate":"monotone"},"encoding":{"x":{"field":"x","type":"quantitative"},"y":{"field":"y","type":"quantitative"},"color":{"datum":"GGA"}}},
{"data":{"name":"Ir_U_up"},"mark":{"type":"line","strokeWidth":3.8,"clip":true,"interpolate":"monotone"},"encoding":{"x":{"field":"x","type":"quantitative"},"y":{"field":"y","type":"quantitative"},"color":{"datum":"GGA+U"}}},
{"data":{"name":"Ir_U_dn"},"mark":{"type":"line","strokeWidth":3.8,"clip":true,"interpolate":"monotone"},"encoding":{"x":{"field":"x","type":"quantitative"},"y":{"field":"y","type":"quantitative"},"color":{"datum":"GGA+U"}}},
{"data":{"values":[{}]},"mark":{"type":"rule","color":"black","strokeWidth":1},"encoding":{"y":{"datum":0}}},
{"data":{"values":[{}]},"mark":{"type":"rule","color":"black","strokeWidth":1},"encoding":{"x":{"datum":0}}},
{"data":{"values":[{}]},"mark":{"type":"text","align":"right","baseline":"middle","fontSize":24},"encoding":{"x":{"datum":7.27},"y":{"datum":4.02},"text":{"value":"Ir-total"}}},
{"data":{"values":[{}]},"mark":{"type":"text","align":"left","baseline":"middle","fontSize":20},"encoding":{"x":{"datum":3.77},"y":{"datum":2.61},"text":{"value":"spin up"}}},
{"data":{"values":[{}]},"mark":{"type":"text","align":"left","baseline":"middle","fontSize":20},"encoding":{"x":{"datum":4.25},"y":{"datum":-2.72},"text":{"value":"spin dn"}}},
{"data":{"values":[{}]},"mark":{"type":"rule","color":"#333","strokeWidth":1},"encoding":{"x":{"datum":3.5},"y":{"datum":2.1},"y2":{"datum":3.36}}},
{"data":{"values":[{}]},"mark":{"type":"rule","color":"#333","strokeWidth":1},"encoding":{"x":{"datum":3.62},"y":{"datum":-2.24},"y2":{"datum":-3.52}}},
{"data":{"values":[{}]},"mark":{"type":"point","shape":"triangle-up","size":22,"filled":true,"color":"#333","opacity":1},"encoding":{"x":{"datum":3.5},"y":{"datum":3.36}}},
{"data":{"values":[{}]},"mark":{"type":"point","shape":"triangle-down","size":22,"filled":true,"color":"#333","opacity":1},"encoding":{"x":{"datum":3.62},"y":{"datum":-3.52}}}
]},
{"width":697,"height":300,"layer":[
{"data":{"name":"O1_GGA_up"},"mark":{"type":"line","strokeWidth":3.8,"clip":true,"interpolate":"monotone"},"encoding":{"x":{"field":"x","type":"quantitative","scale":{"domain":[-8,8],"nice":false,"zero":false},"axis":{"title":"Energy(eV)","labelOverlap":false,"values":[-8,-7,-6,-5,-4,-3,-2,-1,0,1,2,3,4,5,6,7,8],"labelExpr":"datum.value % 2 === 0 ? datum.label : ''"}},"y":{"field":"y","type":"quantitative","scale":{"domain":[-3.5,3],"nice":false,"zero":false},"axis":{"title":"P.DOS (states/eV)","labelOverlap":false,"values":[-3,-2.5,-2,-1.5,-1,-0.5,0,0.5,1,1.5,2,2.5,3],"labelExpr":"datum.value % 1 === 0 ? format(datum.value, 'd') : ''"}},"color":{"datum":"GGA","scale":{"domain":["GGA","GGA+U"],"range":["#0000ff","#000000"]},"legend":{"title":null,"orient":"none","legendX":16.6,"legendY":0,"symbolType":"M-1.6,0H1.6","symbolSize":600,"labelOffset":11,"rowPadding":0}}}},
{"data":{"name":"O1_GGA_dn"},"mark":{"type":"line","strokeWidth":3.8,"clip":true,"interpolate":"monotone"},"encoding":{"x":{"field":"x","type":"quantitative"},"y":{"field":"y","type":"quantitative"},"color":{"datum":"GGA"}}},
{"data":{"name":"O1_U_up"},"mark":{"type":"line","strokeWidth":3.8,"clip":true,"interpolate":"monotone"},"encoding":{"x":{"field":"x","type":"quantitative"},"y":{"field":"y","type":"quantitative"},"color":{"datum":"GGA+U"}}},
{"data":{"name":"O1_U_dn"},"mark":{"type":"line","strokeWidth":3.8,"clip":true,"interpolate":"monotone"},"encoding":{"x":{"field":"x","type":"quantitative"},"y":{"field":"y","type":"quantitative"},"color":{"datum":"GGA+U"}}},
{"data":{"values":[{}]},"mark":{"type":"rule","color":"black","strokeWidth":1},"encoding":{"y":{"datum":0}}},
{"data":{"values":[{}]},"mark":{"type":"rule","color":"black","strokeWidth":1},"encoding":{"x":{"datum":0}}},
{"data":{"values":[{}]},"mark":{"type":"text","align":"right","baseline":"middle","fontSize":24},"encoding":{"x":{"datum":7.29},"y":{"datum":2.35},"text":{"value":"O1-total"}}},
{"data":{"values":[{}]},"mark":{"type":"text","align":"left","baseline":"middle","fontSize":20},"encoding":{"x":{"datum":2.97},"y":{"datum":1.24},"text":{"value":"spin up"}}},
{"data":{"values":[{}]},"mark":{"type":"text","align":"left","baseline":"middle","fontSize":20},"encoding":{"x":{"datum":2.67},"y":{"datum":-2.36},"text":{"value":"spin dn"}}},
{"data":{"values":[{}]},"mark":{"type":"rule","color":"#333","strokeWidth":1},"encoding":{"x":{"datum":2.34},"y":{"datum":0.99},"y2":{"datum":1.92}}},
{"data":{"values":[{}]},"mark":{"type":"rule","color":"#333","strokeWidth":1},"encoding":{"x":{"datum":2.24},"y":{"datum":-1.9},"y2":{"datum":-2.83}}},
{"data":{"values":[{}]},"mark":{"type":"point","shape":"triangle-up","size":22,"filled":true,"color":"#333","opacity":1},"encoding":{"x":{"datum":2.34},"y":{"datum":1.92}}},
{"data":{"values":[{}]},"mark":{"type":"point","shape":"triangle-down","size":22,"filled":true,"color":"#333","opacity":1},"encoding":{"x":{"datum":2.24},"y":{"datum":-2.83}}}
]},
{"width":697,"height":300,"layer":[
{"data":{"name":"O2_GGA_up"},"mark":{"type":"line","strokeWidth":3.8,"clip":true,"interpolate":"monotone"},"encoding":{"x":{"field":"x","type":"quantitative","scale":{"domain":[-8,8],"nice":false,"zero":false},"axis":{"title":"Energy(eV)","labelOverlap":false,"values":[-8,-7,-6,-5,-4,-3,-2,-1,0,1,2,3,4,5,6,7,8],"labelExpr":"datum.value % 2 === 0 ? datum.label : ''"}},"y":{"field":"y","type":"quantitative","scale":{"domain":[-3.5,3],"nice":false,"zero":false},"axis":{"title":"P.DOS (states/eV)","labelOverlap":false,"values":[-3,-2.5,-2,-1.5,-1,-0.5,0,0.5,1,1.5,2,2.5,3],"labelExpr":"datum.value % 1 === 0 ? format(datum.value, 'd') : ''"}},"color":{"datum":"GGA","scale":{"domain":["GGA","GGA+U"],"range":["#0000ff","#000000"]},"legend":{"title":null,"orient":"none","legendX":9.6,"legendY":0,"symbolType":"M-1.6,0H1.6","symbolSize":600,"labelOffset":12,"rowPadding":0}}}},
{"data":{"name":"O2_GGA_dn"},"mark":{"type":"line","strokeWidth":3.8,"clip":true,"interpolate":"monotone"},"encoding":{"x":{"field":"x","type":"quantitative"},"y":{"field":"y","type":"quantitative"},"color":{"datum":"GGA"}}},
{"data":{"name":"O2_U_up"},"mark":{"type":"line","strokeWidth":3.8,"clip":true,"interpolate":"monotone"},"encoding":{"x":{"field":"x","type":"quantitative"},"y":{"field":"y","type":"quantitative"},"color":{"datum":"GGA+U"}}},
{"data":{"name":"O2_U_dn"},"mark":{"type":"line","strokeWidth":3.8,"clip":true,"interpolate":"monotone"},"encoding":{"x":{"field":"x","type":"quantitative"},"y":{"field":"y","type":"quantitative"},"color":{"datum":"GGA+U"}}},
{"data":{"values":[{}]},"mark":{"type":"rule","color":"black","strokeWidth":1},"encoding":{"y":{"datum":0}}},
{"data":{"values":[{}]},"mark":{"type":"rule","color":"black","strokeWidth":1},"encoding":{"x":{"datum":0}}},
{"data":{"values":[{}]},"mark":{"type":"text","align":"right","baseline":"middle","fontSize":24},"encoding":{"x":{"datum":7.27},"y":{"datum":2.35},"text":{"value":"O2-total"}}},
{"data":{"values":[{}]},"mark":{"type":"text","align":"left","baseline":"middle","fontSize":20},"encoding":{"x":{"datum":3.45},"y":{"datum":1.16},"text":{"value":"spin up"}}},
{"data":{"values":[{}]},"mark":{"type":"text","align":"left","baseline":"middle","fontSize":20},"encoding":{"x":{"datum":3.36},"y":{"datum":-1.93},"text":{"value":"spin dn"}}},
{"data":{"values":[{}]},"mark":{"type":"rule","color":"#333","strokeWidth":1},"encoding":{"x":{"datum":2.55},"y":{"datum":0.39},"y2":{"datum":1.35}}},
{"data":{"values":[{}]},"mark":{"type":"rule","color":"#333","strokeWidth":1},"encoding":{"x":{"datum":2.66},"y":{"datum":-1.45},"y2":{"datum":-2.39}}},
{"data":{"values":[{}]},"mark":{"type":"point","shape":"triangle-up","size":22,"filled":true,"color":"#333","opacity":1},"encoding":{"x":{"datum":2.55},"y":{"datum":1.35}}},
{"data":{"values":[{}]},"mark":{"type":"point","shape":"triangle-down","size":22,"filled":true,"color":"#333","opacity":1},"encoding":{"x":{"datum":2.66},"y":{"datum":-2.39}}}
]},
{"width":697,"height":300,"layer":[
{"data":{"name":"O3_GGA_up"},"mark":{"type":"line","strokeWidth":3.8,"clip":true,"interpolate":"monotone"},"encoding":{"x":{"field":"x","type":"quantitative","scale":{"domain":[-8,8],"nice":false,"zero":false},"axis":{"title":"Energy(eV)","labelOverlap":false,"values":[-8,-7,-6,-5,-4,-3,-2,-1,0,1,2,3,4,5,6,7,8],"labelExpr":"datum.value % 2 === 0 ? datum.label : ''"}},"y":{"field":"y","type":"quantitative","scale":{"domain":[-4,4],"nice":false,"zero":false},"axis":{"title":"P.DOS (states/eV)","labelOverlap":false,"values":[-4,-3,-2,-1,0,1,2,3,4],"labelExpr":"datum.value % 2 === 0 ? datum.label : ''"}},"color":{"datum":"GGA","scale":{"domain":["GGA","GGA+U"],"range":["#0000ff","#000000"]},"legend":{"title":null,"orient":"none","legendX":13,"legendY":9,"symbolType":"M-1.6,0H1.6","symbolSize":600,"labelOffset":12.5,"rowPadding":0}}}},
{"data":{"name":"O3_GGA_dn"},"mark":{"type":"line","strokeWidth":3.8,"clip":true,"interpolate":"monotone"},"encoding":{"x":{"field":"x","type":"quantitative"},"y":{"field":"y","type":"quantitative"},"color":{"datum":"GGA"}}},
{"data":{"name":"O3_U_up"},"mark":{"type":"line","strokeWidth":3.8,"clip":true,"interpolate":"monotone"},"encoding":{"x":{"field":"x","type":"quantitative"},"y":{"field":"y","type":"quantitative"},"color":{"datum":"GGA+U"}}},
{"data":{"name":"O3_U_dn"},"mark":{"type":"line","strokeWidth":3.8,"clip":true,"interpolate":"monotone"},"encoding":{"x":{"field":"x","type":"quantitative"},"y":{"field":"y","type":"quantitative"},"color":{"datum":"GGA+U"}}},
{"data":{"values":[{}]},"mark":{"type":"rule","color":"black","strokeWidth":1},"encoding":{"y":{"datum":0}}},
{"data":{"values":[{}]},"mark":{"type":"rule","color":"black","strokeWidth":1},"encoding":{"x":{"datum":0}}},
{"data":{"values":[{}]},"mark":{"type":"text","align":"right","baseline":"middle","fontSize":24},"encoding":{"x":{"datum":7.45},"y":{"datum":3.17},"text":{"value":"O3-total"}}},
{"data":{"values":[{}]},"mark":{"type":"text","align":"left","baseline":"middle","fontSize":20},"encoding":{"x":{"datum":2.8},"y":{"datum":1.44},"text":{"value":"spin up"}}},
{"data":{"values":[{}]},"mark":{"type":"text","align":"left","baseline":"middle","fontSize":20},"encoding":{"x":{"datum":3.08},"y":{"datum":-2.48},"text":{"value":"spin dn"}}},
{"data":{"values":[{}]},"mark":{"type":"rule","color":"#333","strokeWidth":1},"encoding":{"x":{"datum":2.21},"y":{"datum":0.94},"y2":{"datum":2.1}}},
{"data":{"values":[{}]},"mark":{"type":"rule","color":"#333","strokeWidth":1},"encoding":{"x":{"datum":2.39},"y":{"datum":-1.76},"y2":{"datum":-2.93}}},
{"data":{"values":[{}]},"mark":{"type":"point","shape":"triangle-up","size":22,"filled":true,"color":"#333","opacity":1},"encoding":{"x":{"datum":2.21},"y":{"datum":2.1}}},
{"data":{"values":[{}]},"mark":{"type":"point","shape":"triangle-down","size":22,"filled":true,"color":"#333","opacity":1},"encoding":{"x":{"datum":2.39},"y":{"datum":-2.93}}}
]}
]
}
